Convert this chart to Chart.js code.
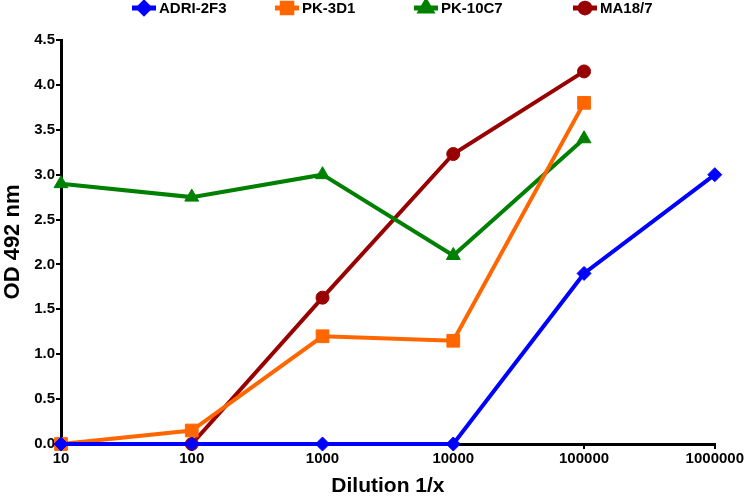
<!DOCTYPE html>
<html>
<head>
<meta charset="utf-8">
<script src="https://cdn.jsdelivr.net/npm/chart.js@4"></script>
<style>
  html, body { margin: 0; padding: 0; background: #fff; }
  #wrap { width: 745px; height: 499px; position: relative; }
</style>
</head>
<body>
<div id="wrap"><canvas id="odChart"></canvas></div>
<script>
// Dilution points (1/x) and OD readings per antibody
const dilutions = [10, 100, 1000, 10000, 100000, 1000000];
const xTicks = [10, 100, 1000, 10000, 100000, 1000000];
const adri2f3 = [0, 0, 0, 0, 1.9, 3.0];
const pk3d1 = [0, 0.15, 1.2, 1.15, 3.8];
const pk10c7 = [2.9, 2.75, 3.0, 2.1, 3.4];
const ma187 = [0, 0, 1.63, 3.23, 4.15];

const seriesNames = ['ADRI-2F3', 'PK-3D1', 'PK-10C7', 'MA18/7'];
const seriesValues = [adri2f3, pk3d1, pk10c7, ma187];
const seriesColors = ['#0000ff', '#ff6600', '#008000', '#990000'];
const seriesMarkers = ['rectRot', 'rect', 'triangle', 'circle'];
const markerSizes = [7, 9, 8, 6.5];

const FONT = '"Liberation Sans", Arial, sans-serif';
const toPoints = vals => vals.map((v, i) => ({ x: dilutions[i], y: v }));

// Legend drawn by hand so each entry shows a line segment plus the marker
const lineLegend = {
    id: 'lineLegend',
    afterDraw(chart) {
        const ctx = chart.ctx;
        const starts = [132, 275, 414, 573];
        const y = 8;
        ctx.save();
        ctx.font = 'bold 15px ' + FONT;
        ctx.textBaseline = 'middle';
        seriesNames.forEach((name, i) => {
            const x0 = starts[i];
            ctx.strokeStyle = seriesColors[i];
            ctx.lineWidth = 5;
            ctx.beginPath();
            ctx.moveTo(x0, y);
            ctx.lineTo(x0 + 24, y);
            ctx.stroke();
            ctx.fillStyle = seriesColors[i];
            ctx.strokeStyle = seriesColors[i];
            Chart.helpers.drawPoint(ctx, {
                pointStyle: seriesMarkers[i],
                radius: markerSizes[i] * 0.75,
                borderWidth: 1
            }, x0 + 12, y);
            ctx.fillStyle = '#000';
            ctx.fillText(name, x0 + 27, y + 1);
        });
        ctx.restore();
    }
};

const ctx = document.getElementById('odChart').getContext('2d');
new Chart(ctx, {
    type: 'line',
    data: {
        datasets: seriesNames.map((name, i) => ({
            label: name,
            data: toPoints(seriesValues[i]),
            borderColor: seriesColors[i],
            backgroundColor: seriesColors[i],
            borderWidth: 4,
            pointStyle: seriesMarkers[i],
            pointRadius: markerSizes[i],
            pointHoverRadius: markerSizes[i],
            pointBorderWidth: 1,
            tension: 0,
            clip: false
        }))
    },
    options: {
        responsive: true,
        maintainAspectRatio: false,
        animation: false,
        layout: { padding: { top: 40, right: 2, left: 0, bottom: 0 } },
        plugins: {
            legend: { display: false },
            tooltip: { enabled: false }
        },
        scales: {
            x: {
                type: 'logarithmic',
                min: 10,
                max: 1000000,
                afterBuildTicks: scale => {
                    scale.ticks = xTicks.map(v => ({ value: v }));
                },
                afterFit: scale => { scale.height = 55; },
                ticks: {
                    color: '#000',
                    font: { family: FONT, size: 15, weight: 'bold' },
                    padding: 1,
                    maxRotation: 0,
                    autoSkip: false,
                    callback: v => String(v)
                },
                grid: {
                    drawOnChartArea: false,
                    color: '#000',
                    lineWidth: 2,
                    tickLength: 5
                },
                border: { color: '#000', width: 3 },
                title: {
                    display: true,
                    text: 'Dilution 1/x',
                    color: '#000',
                    font: { family: FONT, size: 21, weight: 'bold' },
                    padding: { top: 5, bottom: 0 }
                }
            },
            y: {
                min: 0,
                max: 4.5,
                afterFit: scale => { scale.width = 61; },
                ticks: {
                    stepSize: 0.5,
                    color: '#000',
                    font: { family: FONT, size: 15, weight: 'bold' },
                    padding: 1,
                    callback: v => v.toFixed(1)
                },
                grid: {
                    drawOnChartArea: false,
                    color: '#000',
                    lineWidth: 2,
                    tickLength: 5
                },
                border: { color: '#000', width: 3 },
                title: {
                    display: true,
                    text: 'OD 492 nm',
                    color: '#000',
                    font: { family: FONT, size: 22, weight: 'bold' },
                    padding: { top: 0, bottom: 2 }
                }
            }
        }
    },
    plugins: [lineLegend]
});
</script>
</body>
</html>
